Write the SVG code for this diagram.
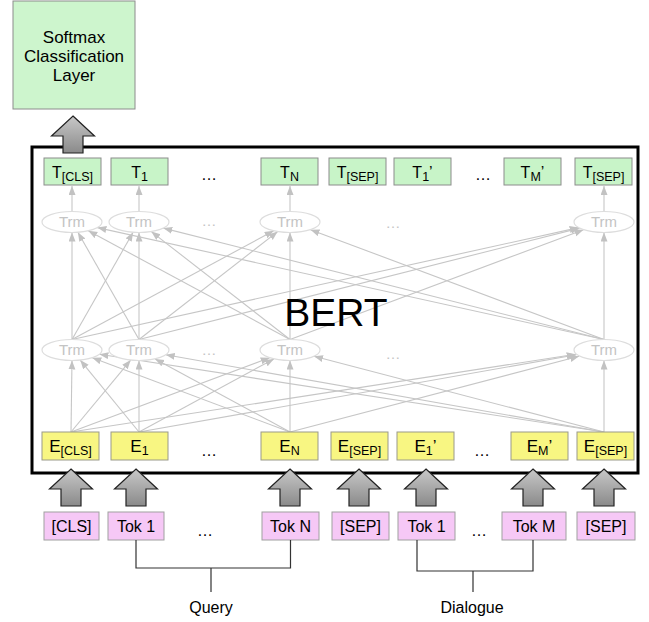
<svg xmlns="http://www.w3.org/2000/svg" width="649" height="622" viewBox="0 0 649 622">
<style>
text{font-family:"Liberation Sans",Arial,Helvetica,sans-serif;fill:#000}
.lbl{font-size:16px;text-anchor:middle}
.el{font-size:17px;text-anchor:middle}
.sub{font-size:12.5px}
.tbox{fill:#c8f4c8;stroke:#8c8c8c;stroke-width:1}
.ebox{fill:#f8f682;stroke:#9a9a8a;stroke-width:1}
.pbox{fill:#f6c8f6;stroke:#a0a0a0;stroke-width:1}
.trm ellipse{fill:#fff;stroke:#dddddd;stroke-width:1.2}
.trm text{font-size:15px;text-anchor:middle;fill:#c4c4c4}
.dots{font-size:16px;text-anchor:middle}
.gdots{font-size:14px;text-anchor:middle;fill:#c4c4c4}
.conn line{stroke:#c6c6c6;stroke-width:1.1;marker-end:url(#ah)}
.brk{fill:none;stroke:#333;stroke-width:1.2}
.blk{fill:url(#gg);stroke:#222;stroke-width:1.2}
</style>
<defs>
<marker id="ah" markerUnits="userSpaceOnUse" markerWidth="10" markerHeight="8" refX="9" refY="3.5" orient="auto">
<path d="M0,0 L9,3.5 L0,7 z" fill="#c2c2c2"/>
</marker>
<linearGradient id="gg" x1="0" y1="0" x2="0" y2="1">
<stop offset="0" stop-color="#c8c8c8"/>
<stop offset="1" stop-color="#8a8a8a"/>
</linearGradient>
<path id="barrow" d="M0,0 L21.5,20 L10,20 L10,37 L-10,37 L-10,20 L-21.5,20 Z"/>
</defs>

<g id="softmax">
<rect x="13" y="1" width="122" height="108" fill="#cdf5cd" stroke="#8c8c8c" stroke-width="1"/>
<text x="74" y="43" style="font-size:17px;text-anchor:middle">Softmax</text>
<text x="74" y="62" style="font-size:17px;text-anchor:middle">Classification</text>
<text x="74" y="81" style="font-size:17px;text-anchor:middle">Layer</text>
</g>

<g id="bert">
<rect x="32" y="147" width="606" height="326" fill="#fff" stroke="#000" stroke-width="3"/>
</g>

<g id="connectors" class="conn">
<line x1="71" y1="432" x2="72" y2="360.5"/>
<line x1="71" y1="432" x2="130.7" y2="360.1"/>
<line x1="71" y1="432" x2="269.7" y2="357.7"/>
<line x1="71" y1="432" x2="575.6" y2="354.3"/>
<line x1="139" y1="432" x2="80.2" y2="360.1"/>
<line x1="139" y1="432" x2="139" y2="360.5"/>
<line x1="139" y1="432" x2="273.9" y2="358.9"/>
<line x1="139" y1="432" x2="576.3" y2="354.8"/>
<line x1="290" y1="432" x2="92.3" y2="357.7"/>
<line x1="290" y1="432" x2="155.1" y2="358.9"/>
<line x1="290" y1="432" x2="290" y2="360.5"/>
<line x1="290" y1="432" x2="579.1" y2="356.3"/>
<line x1="604" y1="432" x2="99.4" y2="354.3"/>
<line x1="604" y1="432" x2="165.7" y2="354.8"/>
<line x1="604" y1="432" x2="314" y2="356.3"/>
<line x1="604" y1="432" x2="604" y2="360.5"/>

<line x1="72" y1="339.5" x2="72" y2="232.5"/>
<line x1="72" y1="339.5" x2="133.1" y2="232.3"/>
<line x1="72" y1="339.5" x2="273.7" y2="230.8"/>
<line x1="72" y1="339.5" x2="578.6" y2="227.6"/>
<line x1="139" y1="339.5" x2="77.9" y2="232.3"/>
<line x1="139" y1="339.5" x2="139" y2="232.5"/>
<line x1="139" y1="339.5" x2="277.7" y2="231.6"/>
<line x1="139" y1="339.5" x2="579.7" y2="228.1"/>
<line x1="290" y1="339.5" x2="88.3" y2="230.8"/>
<line x1="290" y1="339.5" x2="151.3" y2="231.6"/>
<line x1="290" y1="339.5" x2="290" y2="232.5"/>
<line x1="290" y1="339.5" x2="583.5" y2="229.7"/>
<line x1="604" y1="339.5" x2="97.4" y2="227.6"/>
<line x1="604" y1="339.5" x2="163.3" y2="228.1"/>
<line x1="604" y1="339.5" x2="310.5" y2="229.7"/>
<line x1="604" y1="339.5" x2="604" y2="232.5"/>

<line x1="72" y1="211.5" x2="72" y2="186"/>
<line x1="139" y1="211.5" x2="139" y2="186"/>
<line x1="290" y1="211.5" x2="290" y2="186"/>
<line x1="604" y1="211.5" x2="604" y2="186"/>
</g>

<text id="bert-label" x="336" y="326" style="font-size:39px;text-anchor:middle">BERT</text>

<g id="trm-top" class="trm">
<g id="trm-t1"><ellipse cx="72" cy="222" rx="30" ry="10.5"/><text x="72" y="227">Trm</text></g>
<g id="trm-t2"><ellipse cx="139" cy="222" rx="30" ry="10.5"/><text x="139" y="227">Trm</text></g>
<g id="trm-t3"><ellipse cx="290" cy="222" rx="30" ry="10.5"/><text x="290" y="227">Trm</text></g>
<g id="trm-t4"><ellipse cx="604" cy="222" rx="30" ry="10.5"/><text x="604" y="227">Trm</text></g>
<text class="gdots" x="209" y="226">…</text>
<text class="gdots" x="393" y="228">…</text>
</g>
<g id="trm-bottom" class="trm">
<g id="trm-b1"><ellipse cx="72" cy="350" rx="30" ry="10.5"/><text x="72" y="355">Trm</text></g>
<g id="trm-b2"><ellipse cx="139" cy="350" rx="30" ry="10.5"/><text x="139" y="355">Trm</text></g>
<g id="trm-b3"><ellipse cx="290" cy="350" rx="30" ry="10.5"/><text x="290" y="355">Trm</text></g>
<g id="trm-b4"><ellipse cx="604" cy="350" rx="30" ry="10.5"/><text x="604" y="355">Trm</text></g>
<text class="gdots" x="209" y="355">…</text>
<text class="gdots" x="393" y="359">…</text>
</g>

<g id="t-row">
<g id="t-cls"><rect class="tbox" x="44" y="158" width="57" height="27"/><text class="lbl" x="72.5" y="178">T<tspan class="sub" dy="3">[CLS]</tspan></text></g>
<g id="t-1"><rect class="tbox" x="111" y="158" width="57" height="27"/><text class="lbl" x="139.5" y="178">T<tspan class="sub" dy="3">1</tspan></text></g>
<text class="dots" x="209" y="180">…</text>
<g id="t-n"><rect class="tbox" x="261" y="158" width="57" height="27"/><text class="lbl" x="289.5" y="178">T<tspan class="sub" dy="3">N</tspan></text></g>
<g id="t-sep1"><rect class="tbox" x="329" y="158" width="57" height="27"/><text class="lbl" x="357.5" y="178">T<tspan class="sub" dy="3">[SEP]</tspan></text></g>
<g id="t-1p"><rect class="tbox" x="394" y="158" width="57" height="27"/><text class="lbl" x="422.5" y="178">T<tspan class="sub" dy="3">1</tspan><tspan dy="-3">’</tspan></text></g>
<text class="dots" x="483" y="180">…</text>
<g id="t-mp"><rect class="tbox" x="504" y="158" width="57" height="27"/><text class="lbl" x="532.5" y="178">T<tspan class="sub" dy="3">M</tspan><tspan dy="-3">’</tspan></text></g>
<g id="t-sep2"><rect class="tbox" x="575" y="158" width="57" height="27"/><text class="lbl" x="603.5" y="178">T<tspan class="sub" dy="3">[SEP]</tspan></text></g>
</g>

<g id="e-row">
<g id="e-cls"><rect class="ebox" x="42" y="432" width="57" height="28"/><text class="el" x="70.5" y="452">E<tspan class="sub" dy="3">[CLS]</tspan></text></g>
<g id="e-1"><rect class="ebox" x="111" y="432" width="57" height="28"/><text class="el" x="139.5" y="452">E<tspan class="sub" dy="3">1</tspan></text></g>
<text class="dots" x="209" y="456">…</text>
<g id="e-n"><rect class="ebox" x="261" y="432" width="57" height="28"/><text class="el" x="289.5" y="452">E<tspan class="sub" dy="3">N</tspan></text></g>
<g id="e-sep1"><rect class="ebox" x="331" y="432" width="57" height="28"/><text class="el" x="359.5" y="452">E<tspan class="sub" dy="3">[SEP]</tspan></text></g>
<g id="e-1p"><rect class="ebox" x="397" y="432" width="57" height="28"/><text class="el" x="425.5" y="452">E<tspan class="sub" dy="3">1</tspan><tspan dy="-3">’</tspan></text></g>
<text class="dots" x="482" y="456">…</text>
<g id="e-mp"><rect class="ebox" x="511" y="432" width="57" height="28"/><text class="el" x="539.5" y="452">E<tspan class="sub" dy="3">M</tspan><tspan dy="-3">’</tspan></text></g>
<g id="e-sep2"><rect class="ebox" x="577" y="432" width="57" height="28"/><text class="el" x="605.5" y="452">E<tspan class="sub" dy="3">[SEP]</tspan></text></g>
</g>

<g id="block-arrows">
<use href="#barrow" class="blk" transform="translate(73,116)"/>
<use href="#barrow" class="blk" transform="translate(71,469)"/>
<use href="#barrow" class="blk" transform="translate(136,469)"/>
<use href="#barrow" class="blk" transform="translate(290,469)"/>
<use href="#barrow" class="blk" transform="translate(359,469)"/>
<use href="#barrow" class="blk" transform="translate(426,469)"/>
<use href="#barrow" class="blk" transform="translate(533,469)"/>
<use href="#barrow" class="blk" transform="translate(604,469)"/>
</g>

<g id="tok-row">
<g id="tok-cls"><rect class="pbox" x="44" y="512" width="55" height="28"/><text class="lbl" x="71.5" y="532">[CLS]</text></g>
<g id="tok-q1"><rect class="pbox" x="108" y="512" width="56" height="28"/><text class="lbl" x="136" y="532">Tok 1</text></g>
<text class="dots" x="205" y="536">…</text>
<g id="tok-qn"><rect class="pbox" x="262" y="512" width="57" height="28"/><text class="lbl" x="290.5" y="532">Tok N</text></g>
<g id="tok-sep1"><rect class="pbox" x="332" y="512" width="57" height="28"/><text class="lbl" x="360.5" y="532">[SEP]</text></g>
<g id="tok-d1"><rect class="pbox" x="398" y="512" width="57" height="28"/><text class="lbl" x="426.5" y="532">Tok 1</text></g>
<text class="dots" x="479" y="536">…</text>
<g id="tok-dm"><rect class="pbox" x="502" y="512" width="64" height="28"/><text class="lbl" x="534" y="532">Tok M</text></g>
<g id="tok-sep2"><rect class="pbox" x="577" y="512" width="58" height="28"/><text class="lbl" x="606" y="532">[SEP]</text></g>
</g>

<g id="query">
<path class="brk" d="M136,540 V568 H290.5 V540 M211,568 V592"/>
<text class="lbl" x="211" y="613">Query</text>
</g>
<g id="dialogue">
<path class="brk" d="M417,540 V571 H533 V540 M473,571 V592"/>
<text class="lbl" x="472" y="613">Dialogue</text>
</g>
</svg>
